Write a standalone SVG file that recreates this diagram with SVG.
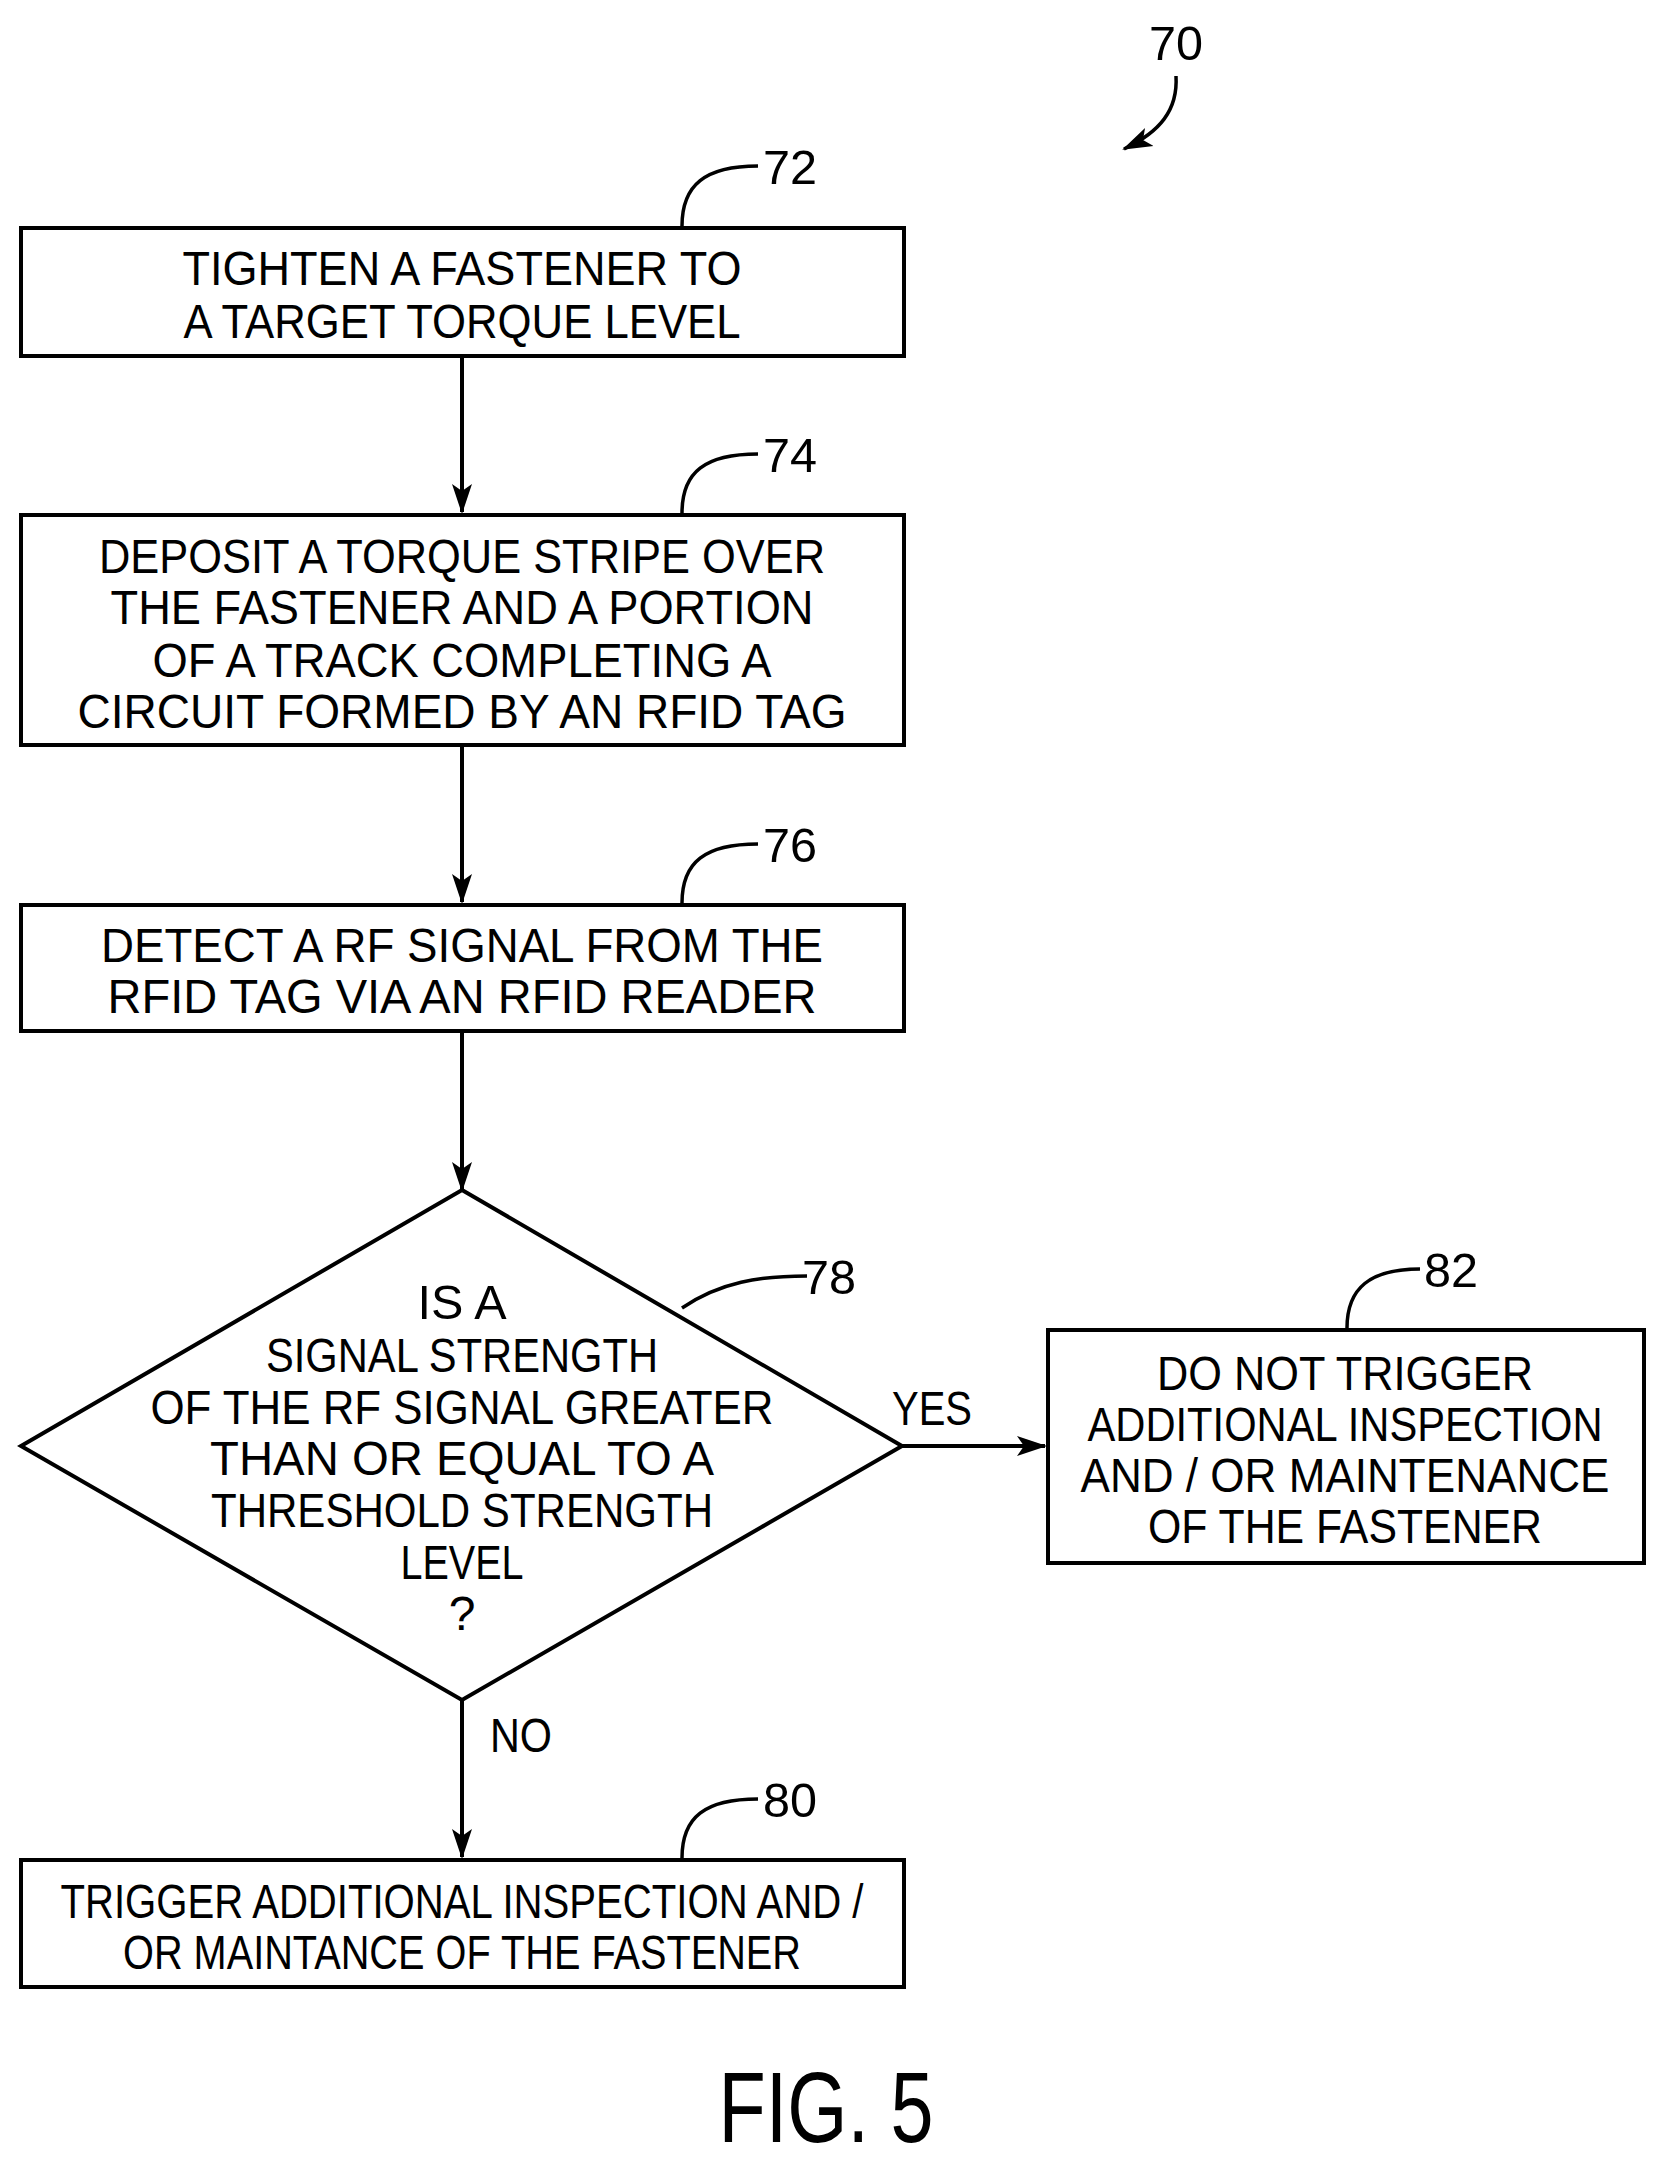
<svg xmlns="http://www.w3.org/2000/svg" width="1661" height="2163" viewBox="0 0 1661 2163">
<style>
text{font-family:"Liberation Sans",Arial,sans-serif;font-size:48px;fill:#000;text-anchor:middle}
.box{fill:#fff;stroke:#000;stroke-width:4}
.ln{fill:none;stroke:#000;stroke-width:4}
.ld{fill:none;stroke:#000;stroke-width:3.5}
</style>
<defs>
<marker id="ab" markerWidth="30" markerHeight="30" refX="28" refY="10" orient="auto" markerUnits="userSpaceOnUse" viewBox="0 0 30 20"><path d="M0,0 L30,10 L0,20 L7,10z" fill="#000"/></marker></defs>
<rect width="1661" height="2163" fill="#fff"/>
<g id="ref70"><text x="1176" y="60" textLength="54" lengthAdjust="spacingAndGlyphs">70</text><path class="ld" d="M1176,76 C1178,110 1160,132 1124,149" marker-end="url(#ab)"/></g>
<g id="connectors">
<path class="ln" d="M462,356 V512" marker-end="url(#ab)"/>
<path class="ln" d="M462,745 V902" marker-end="url(#ab)"/>
<path class="ln" d="M462,1031 V1190" marker-end="url(#ab)"/>
<path class="ln" d="M902,1446 H1045" marker-end="url(#ab)"/>
<path class="ln" d="M462,1700 V1857" marker-end="url(#ab)"/>
<text x="932" y="1425" textLength="80" lengthAdjust="spacingAndGlyphs">YES</text>
<text x="521" y="1752" textLength="62" lengthAdjust="spacingAndGlyphs">NO</text>
</g>
<g id="n72"><rect class="box" x="21" y="228" width="883" height="128"/>
<text x="462" y="285" textLength="559" lengthAdjust="spacingAndGlyphs">TIGHTEN  A  FASTENER  TO</text>
<text x="462" y="338" textLength="557" lengthAdjust="spacingAndGlyphs">A  TARGET  TORQUE  LEVEL</text>
<path class="ld" d="M682,226 C682,185 705,166 758,166"/><text x="790" y="184" textLength="54" lengthAdjust="spacingAndGlyphs">72</text></g>
<g id="n74"><rect class="box" x="21" y="515" width="883" height="230"/>
<text x="462" y="573" textLength="726" lengthAdjust="spacingAndGlyphs">DEPOSIT  A  TORQUE  STRIPE  OVER</text>
<text x="462" y="624" textLength="703" lengthAdjust="spacingAndGlyphs">THE  FASTENER  AND  A  PORTION</text>
<text x="462" y="677" textLength="619" lengthAdjust="spacingAndGlyphs">OF  A  TRACK  COMPLETING  A</text>
<text x="462" y="728" textLength="769" lengthAdjust="spacingAndGlyphs">CIRCUIT  FORMED  BY  AN  RFID  TAG</text>
<path class="ld" d="M682,513 C682,472 705,454 758,454"/><text x="790" y="472" textLength="54" lengthAdjust="spacingAndGlyphs">74</text></g>
<g id="n76"><rect class="box" x="21" y="905" width="883" height="126"/>
<text x="462" y="962" textLength="722" lengthAdjust="spacingAndGlyphs">DETECT  A  RF  SIGNAL  FROM  THE</text>
<text x="462" y="1013" textLength="709" lengthAdjust="spacingAndGlyphs">RFID  TAG  VIA  AN  RFID  READER</text>
<path class="ld" d="M682,903 C682,862 705,844 758,844"/><text x="790" y="862" textLength="54" lengthAdjust="spacingAndGlyphs">76</text></g>
<g id="n78"><path class="box" d="M462,1190 L902,1446 L462,1700 L21,1446Z"/>
<text x="462" y="1319" textLength="89" lengthAdjust="spacingAndGlyphs">IS  A</text>
<text x="462" y="1372" textLength="392" lengthAdjust="spacingAndGlyphs">SIGNAL  STRENGTH</text>
<text x="462" y="1424" textLength="623" lengthAdjust="spacingAndGlyphs">OF  THE  RF  SIGNAL  GREATER</text>
<text x="462" y="1475" textLength="504" lengthAdjust="spacingAndGlyphs">THAN  OR  EQUAL  TO  A</text>
<text x="462" y="1527" textLength="502" lengthAdjust="spacingAndGlyphs">THRESHOLD  STRENGTH</text>
<text x="462" y="1579" textLength="123" lengthAdjust="spacingAndGlyphs">LEVEL</text>
<text x="462" y="1630">?</text>
<path class="ld" d="M682,1308 C720,1282 760,1276 807,1276"/><text x="829" y="1294" textLength="54" lengthAdjust="spacingAndGlyphs">78</text></g>
<g id="n82"><rect class="box" x="1048" y="1330" width="596" height="233"/>
<text x="1345" y="1390" textLength="376" lengthAdjust="spacingAndGlyphs">DO  NOT  TRIGGER</text>
<text x="1345" y="1441" textLength="515" lengthAdjust="spacingAndGlyphs">ADDITIONAL  INSPECTION</text>
<text x="1345" y="1492" textLength="529" lengthAdjust="spacingAndGlyphs">AND  / OR  MAINTENANCE</text>
<text x="1345" y="1543" textLength="394" lengthAdjust="spacingAndGlyphs">OF  THE  FASTENER</text>
<path class="ld" d="M1347,1328 C1347,1288 1370,1269 1420,1269"/><text x="1451" y="1287" textLength="54" lengthAdjust="spacingAndGlyphs">82</text></g>
<g id="n80"><rect class="box" x="21" y="1860" width="883" height="127"/>
<text x="462" y="1918" textLength="803" lengthAdjust="spacingAndGlyphs">TRIGGER  ADDITIONAL  INSPECTION  AND  /</text>
<text x="462" y="1969" textLength="678" lengthAdjust="spacingAndGlyphs">OR  MAINTANCE  OF  THE  FASTENER</text>
<path class="ld" d="M682,1858 C682,1817 705,1799 758,1799"/><text x="790" y="1817" textLength="54" lengthAdjust="spacingAndGlyphs">80</text></g>
<text x="826" y="2142" style="font-size:100px" textLength="215" lengthAdjust="spacingAndGlyphs">FIG. 5</text>
</svg>
